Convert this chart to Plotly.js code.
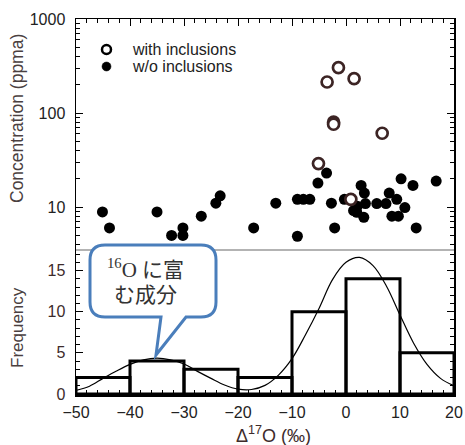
<!DOCTYPE html>
<html><head><meta charset="utf-8">
<script src="https://cdn.plot.ly/plotly-3.0.1.min.js"></script>
<style>html,body{margin:0;padding:0;background:#fff}</style>
</head><body><div id="chart" style="width:465px;height:445px"></div>
<script>
// Δ17O (‰) and concentration (ppma), grains without inclusions
const woX = [-45.1,-43.8,-35.0,-32.3,-30.2,-30.2,-26.8,-24.1,-23.3,-17.1,-13.0,-9.0,-7.9,-6.7,-9.0,-5.2,-3.6,-2.7,-2.1,-0.3,1.4,2.1,2.0,2.8,3.4,3.6,3.3,5.7,7.4,8.0,9.4,8.5,9.7,10.9,10.2,12.4,13.0,16.7];
const woY = [8.9,6.0,8.9,5.0,6.0,5.0,8.0,11.0,13.2,6.0,11.0,12.1,12.1,12.1,4.9,18.0,23,11.0,6.0,12.1,9.2,10.2,8.8,17,14.1,10.9,7.8,10.9,10.9,14.1,12.1,8.0,8.0,9.9,20,17,6.0,18.9];
// grains with inclusions
const wiX = [-1.4,-3.5,1.5,-2.3,-2.3,6.7,-5.1,0.9];
const wiY = [304,214,232,80,76,61,29,12.1];
// histogram (bin centres, counts)
const binX = [-45,-35,-25,-15,-5,5,15];
const binN = [2,4,3,2,10,14,5];
// fitted curve
const fitX = [-50,-47.5,-45,-42.5,-40,-37.5,-35,-32.5,-30,-27.5,-25,-22.5,-20,-17.5,-15,-12.5,-10,-7.5,-5,-2.5,0,2.5,5,7.5,10,12.5,15,17.5,20];
const fitY = [0.45,0.95,1.9,2.8,3.6,4.15,4.35,4.15,3.65,2.75,1.9,1.1,0.6,0.55,1.05,2.3,4.3,7.2,10.4,13.9,16.0,16.6,15.6,13.1,9.6,6.2,3.6,1.9,1.0];
const xTicks = [-50,-40,-30,-20,-10,0,10,20];
const concTicks = [10,100,1000];
const freqTicks = [0,5,10,15];

const dark = '#2a2020';
const fontF = 'Liberation Sans, Arial, sans-serif';
const logMinor = [];
[1,10,100].forEach(d=>{for(let k=2;k<=9;k++){const v=k*d; if(v>=4) logMinor.push(v);} });

const traces = [
  {x: woX, y: woY, xaxis:'x2', yaxis:'y', type:'scatter', mode:'markers',
   marker:{size:11, color:'#000'}, showlegend:false, cliponaxis:false},
  {x: wiX, y: wiY, xaxis:'x2', yaxis:'y', type:'scatter', mode:'markers',
   marker:{size:11, color:'#fff', line:{color:'#3c2424', width:2.7}}, showlegend:false},
  {x: binX, y: binN, xaxis:'x', yaxis:'y2', type:'bar', width:10,
   marker:{color:'rgba(255,255,255,0)', line:{color:'#000', width:3}}, showlegend:false},
  {x: fitX, y: fitY, xaxis:'x', yaxis:'y2', type:'scatter', mode:'lines',
   line:{color:'#000', width:1.2, shape:'spline'}, showlegend:false}
];

const H = 375, W = 378;
const fx = px => (px-76)/W;
const fy = py => (394-py)/H;
const split = fy(250);

// callout bubble (paper coords)
const L=fx(90), R=fx(216), T=fy(245), B=fy(317), rx=15/W, ry=15/H;
const tL=fx(161), tR=fx(186), tipX=fx(156), tipY=fy(355);
const bubble = `M ${L+rx},${T} L ${R-rx},${T} Q ${R},${T} ${R},${T-ry} L ${R},${B+ry} Q ${R},${B} ${R-rx},${B} L ${tR},${B} L ${tipX},${tipY} L ${tL},${B} L ${L+rx},${B} Q ${L},${B} ${L},${B+ry} L ${L},${T-ry} Q ${L},${T} ${L+rx},${T} Z`;

const layout = {
  width:465, height:445, margin:{l:76, r:11, t:19, b:51},
  paper_bgcolor:'#fff', plot_bgcolor:'rgba(0,0,0,0)',
  font:{family:fontF, color:dark, size:16},
  showlegend:false,
  xaxis:{domain:[0,1], anchor:'y2', range:[-50,20], tickvals:xTicks, ticks:'inside', ticklen:7, tickwidth:1,
    tickcolor:'#000', showline:true, linewidth:2.5, linecolor:'#000', zeroline:false, showgrid:false,
    tickfont:{size:16, color:'#222'}, ticklabelstandoff:2,
    minor:{dtick:2, tick0:0, ticks:'inside', ticklen:4, tickcolor:'#000'}},
  xaxis2:{domain:[0,1], anchor:'y', matches:'x', side:'top', range:[-50,20], tickvals:xTicks, ticks:'inside', ticklen:7,
    tickcolor:'#000', showline:true, linewidth:1.5, linecolor:'#000', showticklabels:false, zeroline:false, showgrid:false,
    minor:{dtick:2, tick0:0, ticks:'inside', ticklen:4, tickcolor:'#000'}},
  yaxis:{domain:[split,1], anchor:'x2', type:'log', range:[Math.log10(3.5),3], tickvals:concTicks, ticktext:concTicks.map(String),
    ticks:'inside', ticklen:7, tickcolor:'#000', showline:true, linewidth:1.5, linecolor:'#000', mirror:'ticks',
    showgrid:false, zeroline:false, tickfont:{size:16, color:'#222'}, ticklabelstandoff:6,
    minor:{tickmode:'array', tickvals:logMinor, ticks:'inside', ticklen:4, tickcolor:'#000'}},
  yaxis2:{domain:[0,split], anchor:'x', range:[0,17.5], tickvals:freqTicks, ticks:'inside', ticklen:7, tickcolor:'#000',
    showline:true, linewidth:1.5, linecolor:'#000', mirror:'ticks', showgrid:false, zeroline:false,
    tickfont:{size:16, color:'#3d2b2b'}, ticklabelstandoff:6,
    minor:{dtick:1, tick0:0, ticks:'inside', ticklen:4, tickcolor:'#000'}},
  shapes:[
    {type:'line', xref:'paper', yref:'paper', x0:0, x1:1, y0:split, y1:split, line:{color:'#9a9a9a', width:1.5}},
    {type:'path', xref:'paper', yref:'paper', path:bubble, fillcolor:'#fff', line:{color:'#4a7ebb', width:3}, layer:'above'},
    // legend symbols
    {type:'circle', xref:'paper', yref:'paper', xsizemode:'pixel', ysizemode:'pixel', xanchor:fx(106.5), yanchor:fy(49.5),
      x0:-4.5, x1:4.5, y0:-4.5, y1:4.5, fillcolor:'#fff', line:{color:'#000', width:2.5}},
    {type:'circle', xref:'paper', yref:'paper', xsizemode:'pixel', ysizemode:'pixel', xanchor:fx(106.5), yanchor:fy(66.5),
      x0:-4.5, x1:4.5, y0:-4.5, y1:4.5, fillcolor:'#000', line:{color:'#000', width:0.5}}
  ],
  annotations:[
    {xref:'paper', yref:'paper', x:fx(130), y:fy(49.5), xanchor:'left', yanchor:'middle', showarrow:false,
      text:'with inclusions', font:{size:16, color:'#222'}},
    {xref:'paper', yref:'paper', x:fx(130), y:fy(66.5), xanchor:'left', yanchor:'middle', showarrow:false,
      text:'w/o inclusions', font:{size:16, color:'#222'}},
    {xref:'paper', yref:'paper', x:fx(17), y:fy(119), textangle:-90, xanchor:'center', yanchor:'middle', showarrow:false,
      text:'Concentration (ppma)', font:{size:17.5, color:'#4a4040'}},
    {xref:'paper', yref:'paper', x:fx(17), y:fy(328), textangle:-90, xanchor:'center', yanchor:'middle', showarrow:false,
      text:'Frequency', font:{size:17, color:'#4a4040'}},
    {xref:'paper', yref:'paper', x:fx(273), y:fy(434), xanchor:'center', yanchor:'middle', showarrow:false,
      text:'Δ<sup>17</sup>O (‰)', font:{size:18, color:'#3d2b2b'}},
    {xref:'paper', yref:'paper', x:fx(105), y:fy(268), xanchor:'left', yanchor:'middle', showarrow:false,
      text:'<sup>16</sup>O に富', font:{family:'Liberation Serif, Noto Sans CJK JP, serif', size:21, color:'#333'}},
    {xref:'paper', yref:'paper', x:fx(112), y:fy(295), xanchor:'left', yanchor:'middle', showarrow:false,
      text:'む成分', font:{family:'Liberation Serif, Noto Sans CJK JP, serif', size:21, color:'#333'}}
  ]
};
Plotly.newPlot('chart', traces, layout, {displayModeBar:false, staticPlot:true});
</script></body></html>
